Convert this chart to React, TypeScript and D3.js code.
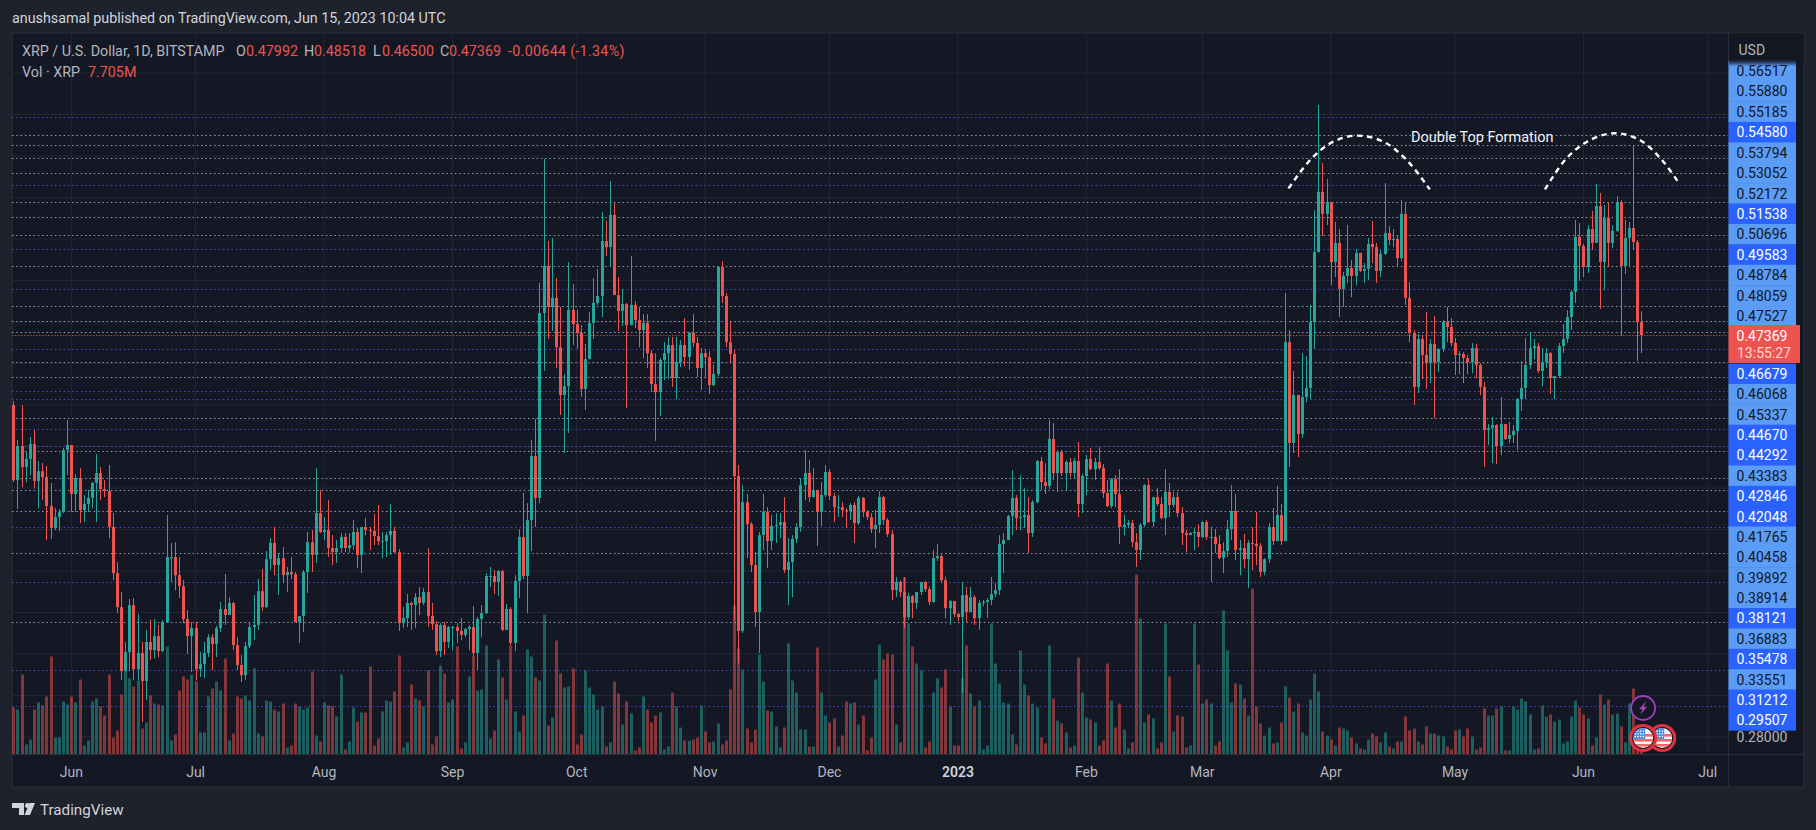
import * as d3 from 'd3';

const firstDay = new Date(Date.UTC(2022, 4, 18));
const firstOpen = 0.4400;

// daily closes, May 18 2022 -> Jun 15 2023
const closes = [
  0.4038,0.4202,0.4101,0.4140,0.4212,0.4034,0.4081,0.4053,0.3913,0.3807,
  0.3860,0.3884,0.4183,0.4207,0.3971,0.4048,0.3894,0.3923,0.3952,0.4024,
  0.4072,0.3995,0.3985,0.3812,0.3590,0.3426,0.3118,0.3209,0.3436,0.3127,
  0.3205,0.3070,0.3258,0.3219,0.3286,0.3214,0.3354,0.3667,0.3667,0.3580,
  0.3527,0.3368,0.3286,0.3325,0.3127,0.3151,0.3205,0.3281,0.3248,0.3325,
  0.3417,0.3388,0.3446,0.3243,0.3147,0.3098,0.3238,0.3330,0.3340,0.3503,
  0.3426,0.3657,0.3735,0.3629,0.3662,0.3580,0.3595,0.3585,0.3354,0.3383,
  0.3595,0.3739,0.3677,0.3879,0.3788,0.3797,0.3711,0.3691,0.3711,0.3764,
  0.3711,0.3725,0.3788,0.3677,0.3812,0.3797,0.3793,0.3768,0.3744,0.3744,
  0.3773,0.3793,0.3691,0.3349,0.3373,0.3446,0.3436,0.3474,0.3446,0.3499,
  0.3383,0.3344,0.3214,0.3340,0.3258,0.3330,0.3330,0.3311,0.3292,0.3320,
  0.3330,0.3205,0.3368,0.3397,0.3576,0.3576,0.3547,0.3600,0.3316,0.3417,
  0.3253,0.3552,0.3764,0.3576,0.3846,0.4154,0.3952,0.4843,0.5070,0.4872,
  0.4916,0.4679,0.4448,0.4491,0.4858,0.4790,0.4747,0.4477,0.4621,0.4795,
  0.4892,0.4925,0.5190,0.5161,0.5316,0.4930,0.4853,0.4887,0.4785,0.4882,
  0.4810,0.4761,0.4795,0.4650,0.4501,0.4462,0.4617,0.4650,0.4689,0.4530,
  0.4607,0.4689,0.4631,0.4747,0.4699,0.4578,0.4650,0.4631,0.4496,0.4549,
  0.5065,0.4925,0.4703,0.4646,0.4058,0.3311,0.3932,0.3826,0.3629,0.3402,
  0.3773,0.3884,0.3744,0.3817,0.3822,0.3836,0.3605,0.3643,0.3754,0.3812,
  0.4014,0.4072,0.3956,0.3990,0.3884,0.3966,0.4077,0.3961,0.3908,0.3908,
  0.3894,0.3889,0.3918,0.3831,0.3952,0.3884,0.3860,0.3802,0.3822,0.3956,
  0.3846,0.3778,0.3508,0.3547,0.3499,0.3378,0.3479,0.3446,0.3499,0.3547,
  0.3513,0.3451,0.3662,0.3672,0.3556,0.3421,0.3455,0.3393,0.3378,0.3484,
  0.3402,0.3474,0.3373,0.3446,0.3451,0.3460,0.3489,0.3508,0.3730,0.3749,
  0.3865,0.3952,0.3855,0.3860,0.3870,0.3783,0.3932,0.4130,0.4029,0.4010,
  0.4236,0.4072,0.4173,0.4072,0.4125,0.4072,0.4130,0.3923,0.4058,0.4140,
  0.4091,0.4125,0.4096,0.3976,0.3913,0.4043,0.3971,0.3812,0.3822,0.3831,
  0.3739,0.3701,0.3822,0.4014,0.3836,0.3956,0.3923,0.3855,0.3981,0.3918,
  0.3956,0.3879,0.3783,0.3773,0.3783,0.3788,0.3764,0.3836,0.3764,0.3764,
  0.3730,0.3662,0.3696,0.3802,0.3889,0.3701,0.3711,0.3657,0.3735,0.3730,
  0.3720,0.3595,0.3657,0.3812,0.3744,0.3870,0.3744,0.4703,0.4217,0.4448,
  0.4260,0.4438,0.4482,0.4800,0.5137,0.5427,0.5321,0.5378,0.5089,0.5181,
  0.4959,0.5022,0.5060,0.5022,0.5133,0.5046,0.5055,0.5176,0.5161,0.5046,
  0.5128,0.5229,0.5195,0.5200,0.5108,0.5321,0.4916,0.4747,0.4487,0.4718,
  0.4641,0.4602,0.4694,0.4607,0.4670,0.4800,0.4776,0.4699,0.4641,0.4646,
  0.4626,0.4607,0.4674,0.4593,0.4487,0.4279,0.4289,0.4303,0.4202,0.4308,
  0.4236,0.4255,0.4275,0.4429,0.4482,0.4593,0.4674,0.4684,0.4564,0.4607,
  0.4650,0.4530,0.4540,0.4684,0.4718,0.4824,0.4945,0.5210,0.5166,0.5065,
  0.5248,0.5181,0.5359,0.5089,0.5301,0.5181,0.5239,0.5378,0.5070,0.5205,
  0.5253,0.5185,0.47992,0.47369,
];

const highs = [
  0.4419,0.4231,0.4400,0.4173,0.4246,0.4279,0.4130,0.4120,0.4106,0.4024,
  0.3903,0.3899,0.4193,0.4328,0.4207,0.4067,0.4096,0.3966,0.3990,0.4029,
  0.4164,0.4101,0.4038,0.4111,0.3879,0.3643,0.3499,0.3258,0.3465,0.3470,
  0.3393,0.3258,0.3316,0.3364,0.3368,0.3340,0.3364,0.3870,0.3735,0.3739,
  0.3667,0.3556,0.3412,0.3354,0.3354,0.3209,0.3258,0.3296,0.3296,0.3335,
  0.3451,0.3585,0.3474,0.3451,0.3281,0.3195,0.3258,0.3349,0.3484,0.3561,
  0.3609,0.3696,0.3759,0.3812,0.3687,0.3715,0.3619,0.3667,0.3595,0.3383,
  0.3605,0.3788,0.3797,0.4096,0.3990,0.3860,0.3942,0.3773,0.3749,0.3783,
  0.3783,0.3783,0.3846,0.3807,0.3812,0.3855,0.3812,0.3875,0.3918,0.3788,
  0.3788,0.3923,0.3812,0.3706,0.3426,0.3489,0.3451,0.3494,0.3523,0.3518,
  0.3711,0.3446,0.3359,0.3349,0.3354,0.3335,0.3335,0.3349,0.3373,0.3325,
  0.3340,0.3431,0.3378,0.3436,0.3590,0.3619,0.3605,0.3605,0.3605,0.3441,
  0.3426,0.3580,0.3802,0.3976,0.3927,0.4231,0.4333,0.4988,0.5586,0.5190,
  0.5205,0.5012,0.4872,0.4549,0.5089,0.4983,0.4858,0.4785,0.4694,0.4848,
  0.5012,0.5055,0.5330,0.5287,0.5480,0.5373,0.5017,0.4959,0.4892,0.5118,
  0.4901,0.4872,0.4838,0.4838,0.4665,0.4650,0.4626,0.4703,0.4728,0.4728,
  0.4728,0.4713,0.4819,0.4752,0.4838,0.4728,0.4674,0.4670,0.4660,0.4593,
  0.5070,0.5094,0.4940,0.4800,0.4665,0.4111,0.4014,0.3971,0.3836,0.3691,
  0.3788,0.3971,0.3908,0.3870,0.3879,0.3879,0.3956,0.3759,0.3773,0.3831,
  0.4048,0.4183,0.4135,0.4096,0.3990,0.4029,0.4111,0.4091,0.3976,0.3966,
  0.3932,0.3903,0.3927,0.3932,0.3961,0.3956,0.3894,0.3879,0.3894,0.3985,
  0.3961,0.3855,0.3797,0.3571,0.3556,0.3571,0.3494,0.3484,0.3499,0.3547,
  0.3552,0.3527,0.3701,0.3730,0.3687,0.3571,0.3460,0.3455,0.3397,0.3547,
  0.3523,0.3523,0.3484,0.3460,0.3460,0.3470,0.3571,0.3542,0.3773,0.3783,
  0.3870,0.4086,0.3966,0.4062,0.3999,0.3956,0.3942,0.4135,0.4150,0.4120,
  0.4328,0.4313,0.4183,0.4183,0.4135,0.4145,0.4145,0.4222,0.4067,0.4159,
  0.4193,0.4145,0.4197,0.4115,0.4038,0.4048,0.4062,0.4091,0.3870,0.3846,
  0.3846,0.3783,0.3831,0.4019,0.4043,0.3956,0.3999,0.3956,0.4091,0.4024,
  0.3981,0.3981,0.3908,0.3797,0.3788,0.3807,0.3826,0.3841,0.3846,0.3812,
  0.3802,0.3773,0.3739,0.3846,0.4014,0.3971,0.3749,0.3778,0.3749,0.3812,
  0.3884,0.3735,0.3662,0.3831,0.3903,0.4010,0.3923,0.4940,0.4761,0.4564,
  0.4448,0.4650,0.4636,0.4882,0.5340,0.5846,0.5566,0.5489,0.5369,0.5282,
  0.5248,0.5041,0.5267,0.5099,0.5152,0.5133,0.5084,0.5205,0.5287,0.5181,
  0.5147,0.5470,0.5263,0.5248,0.5214,0.5388,0.5373,0.4993,0.4761,0.4742,
  0.4737,0.4848,0.4718,0.4829,0.4674,0.4810,0.4872,0.4819,0.4723,0.4660,
  0.4655,0.4641,0.4699,0.4694,0.4602,0.4511,0.4308,0.4342,0.4308,0.4438,
  0.4303,0.4318,0.4303,0.4434,0.4612,0.4723,0.4752,0.4718,0.4699,0.4674,
  0.4674,0.4655,0.4535,0.4699,0.4790,0.4858,0.4954,0.5292,0.5277,0.5176,
  0.5267,0.5335,0.5465,0.5422,0.5364,0.5378,0.5267,0.5407,0.5388,0.5292,
  0.5282,0.5648,0.5195,0.48518,
];

const lows = [
  0.4029,0.3899,0.4005,0.4029,0.4062,0.3999,0.3903,0.3942,0.3749,0.3754,
  0.3797,0.3793,0.3879,0.4062,0.3884,0.3884,0.3831,0.3836,0.3884,0.3903,
  0.3836,0.3942,0.3956,0.3759,0.3556,0.3397,0.3074,0.3118,0.3118,0.3074,
  0.3074,0.2872,0.2978,0.3171,0.3180,0.3185,0.3209,0.3354,0.3547,0.3508,
  0.3470,0.3349,0.3200,0.3113,0.3074,0.3089,0.3084,0.3185,0.3123,0.3185,
  0.3306,0.3340,0.3388,0.3219,0.3123,0.3065,0.3074,0.3229,0.3267,0.3316,
  0.3407,0.3421,0.3605,0.3580,0.3484,0.3542,0.3499,0.3561,0.3354,0.3253,
  0.3306,0.3494,0.3595,0.3638,0.3783,0.3749,0.3667,0.3629,0.3638,0.3687,
  0.3691,0.3687,0.3701,0.3614,0.3590,0.3773,0.3701,0.3725,0.3725,0.3662,
  0.3667,0.3677,0.3687,0.3311,0.3325,0.3330,0.3316,0.3325,0.3388,0.3436,
  0.3330,0.3316,0.3195,0.3185,0.3195,0.3229,0.3219,0.3253,0.3267,0.3281,
  0.3219,0.3185,0.3123,0.3281,0.3393,0.3523,0.3489,0.3479,0.3311,0.3316,
  0.3243,0.3214,0.3470,0.3561,0.3397,0.3696,0.3812,0.3927,0.4564,0.4718,
  0.4757,0.4578,0.4352,0.4169,0.4265,0.4689,0.4670,0.4438,0.4376,0.4621,
  0.4718,0.4882,0.4824,0.5118,0.5065,0.4930,0.4757,0.4781,0.4385,0.4785,
  0.4771,0.4679,0.4626,0.4578,0.4462,0.4226,0.4347,0.4520,0.4525,0.4487,
  0.4429,0.4583,0.4588,0.4569,0.4679,0.4535,0.4472,0.4535,0.4453,0.4491,
  0.4540,0.4892,0.4679,0.4607,0.3364,0.3156,0.3301,0.3662,0.3595,0.3330,
  0.3205,0.3701,0.3614,0.3701,0.3735,0.3759,0.3590,0.3436,0.3474,0.3735,
  0.3788,0.3942,0.3932,0.3956,0.3720,0.3817,0.3956,0.3942,0.3836,0.3860,
  0.3860,0.3807,0.3846,0.3735,0.3822,0.3860,0.3846,0.3783,0.3711,0.3783,
  0.3822,0.3764,0.3460,0.3474,0.3474,0.3325,0.3364,0.3373,0.3417,0.3484,
  0.3499,0.3436,0.3446,0.3648,0.3542,0.3373,0.3340,0.3378,0.3359,0.3012,
  0.3354,0.3402,0.3340,0.3316,0.3431,0.3373,0.3436,0.3474,0.3484,0.3590,
  0.3749,0.3773,0.3797,0.3797,0.3807,0.3687,0.3764,0.3927,0.3990,0.3971,
  0.3995,0.4038,0.3981,0.4058,0.3990,0.4053,0.4048,0.3860,0.3879,0.3966,
  0.4086,0.4038,0.4086,0.3952,0.3908,0.3903,0.3908,0.3730,0.3773,0.3807,
  0.3715,0.3619,0.3653,0.3812,0.3831,0.3812,0.3913,0.3850,0.3773,0.3860,
  0.3908,0.3860,0.3725,0.3691,0.3773,0.3701,0.3715,0.3759,0.3749,0.3547,
  0.3687,0.3657,0.3590,0.3667,0.3749,0.3653,0.3580,0.3614,0.3518,0.3605,
  0.3629,0.3571,0.3580,0.3638,0.3725,0.3744,0.3725,0.3744,0.4101,0.4169,
  0.4149,0.4241,0.4414,0.4429,0.4670,0.5137,0.5214,0.5267,0.4978,0.5017,
  0.4824,0.4872,0.4988,0.4920,0.4978,0.5041,0.4988,0.5002,0.5084,0.4988,
  0.5017,0.5123,0.5171,0.5161,0.5065,0.5094,0.4882,0.4703,0.4400,0.4458,
  0.4525,0.4477,0.4506,0.4337,0.4559,0.4655,0.4703,0.4684,0.4545,0.4549,
  0.4506,0.4549,0.4554,0.4530,0.4448,0.4101,0.4207,0.4120,0.4115,0.4159,
  0.4231,0.4217,0.4217,0.4183,0.4371,0.4429,0.4573,0.4621,0.4554,0.4491,
  0.4578,0.4453,0.4429,0.4530,0.4650,0.4699,0.4761,0.4892,0.4998,0.5017,
  0.5036,0.5147,0.5181,0.4863,0.4954,0.5065,0.5157,0.5234,0.4733,0.5031,
  0.5065,0.5147,0.4612,0.46500,
];

// volume in millions of XRP
const volumes = [
  47,45,80,10,15,45,52,49,58,98,
  17,17,53,50,58,52,75,9,14,53,
  56,48,39,80,17,24,60,84,76,68,
  74,26,32,59,51,50,49,108,14,20,
  64,78,75,80,73,22,22,58,66,73,
  64,96,14,21,58,56,59,54,86,21,
  18,54,53,45,43,51,7,9,51,48,
  45,47,83,19,13,52,49,48,38,80,
  5,13,47,33,42,42,88,9,16,43,
  54,53,63,99,7,12,70,56,54,48,
  84,10,18,89,81,52,55,108,6,12,
  78,98,64,65,109,16,24,95,77,55,
  109,43,23,39,105,98,77,74,140,29,
  37,114,81,67,68,86,10,20,84,67,
  60,45,48,8,12,73,61,30,53,41,
  4,7,58,45,32,39,42,5,8,62,
  48,27,14,14,15,17,49,23,12,13,
  31,10,14,65,149,106,85,26,12,25,
  100,73,44,43,28,7,27,111,74,62,
  25,25,8,8,107,62,39,32,36,8,
  19,53,51,52,30,39,4,17,75,110,
  95,101,100,30,12,177,131,108,91,84,
  7,13,62,76,67,85,48,9,9,76,
  109,61,48,54,5,9,131,91,71,52,
  51,20,10,104,70,59,51,47,17,11,
  109,56,34,31,22,7,9,97,62,37,
  35,32,9,14,91,54,27,51,25,6,
  12,180,136,32,40,36,6,12,131,78,
  23,39,38,7,9,131,90,51,55,51,
  9,13,144,104,52,71,70,56,39,166,
  48,31,19,27,11,12,32,68,57,43,
  51,22,19,55,81,63,23,19,15,9,
  27,26,24,17,11,6,5,15,21,18,
  12,22,8,6,13,13,38,24,26,13,
  10,28,21,21,19,18,8,5,24,25,
  18,26,18,5,7,46,39,39,46,48,
  4,4,48,45,56,53,40,5,6,49,
  38,40,33,35,11,13,38,54,47,40,
  36,9,17,60,50,55,40,41,28,12,
  51,66,30,7.705,
];

// horizontal levels drawn on the chart
const blueLevels = [0.5788,0.5458,0.51538,0.49583,0.46679,0.4467,0.44292,0.42846,0.42048,0.38121,0.35478,0.31212,0.29507];
const lightLevels = [0.5701,0.56517,0.5588,0.55185,0.53794,0.53052,0.52172,0.50696,0.48784,0.48059,0.47527,0.46068,0.45337,0.43383,0.41765,0.40458,0.39892,0.38914,0.36883,0.33551];
const lastPrice = 0.47369;
const gridPrices = d3.range(0.28, 0.61, 0.02);

// the two hand drawn arcs, [candle index, price]
const arcLeft: [number, number][] = [[307.8,0.5444],[313.4,0.5589],[318.6,0.5669],[324.2,0.5698],[330.7,0.5669],[336.3,0.5581],[341.9,0.5439]];
const arcRight: [number, number][] = [[369.7,0.5439],[374.9,0.5589],[380.6,0.5677],[386.6,0.5710],[392.6,0.5677],[397.9,0.5581],[401.9,0.5473]];

const W = 1816;
const H = 830;
const paneL = 12;
const paneR = 1728.5;
const paneT = 33;
const paneB = 754.5;
const frameR = 1804;
const frameB = 787;
const dayW = 4.143;
const x0 = 13.3;

const GREEN = '#26a69a';
const RED = '#ef5350';
const FONT = 'Roboto, sans-serif';

const x = d3.scaleUtc()
  .domain([firstDay, d3.utcDay.offset(firstDay, 100)])
  .range([x0, x0 + 100 * dayW]);
const xi = (i: number) => x(d3.utcDay.offset(firstDay, Math.floor(i))) + (i - Math.floor(i)) * dayW;
const y = d3.scaleLinear().domain([0.28, 0.58]).range([737, 114.5]);
const volY = d3.scaleLinear().domain([0, 200]).range([paneB, paneB - 200]);

const months = d3.utcMonth.range(new Date(Date.UTC(2022, 5, 1)), new Date(Date.UTC(2023, 6, 2)));
const monthLabel = (d: Date) => (d.getUTCMonth() === 0 ? d3.utcFormat('%Y')(d) : d3.utcFormat('%b')(d));

const opens = closes.map((_, i) => (i === 0 ? firstOpen : closes[i - 1]));

const arcLine = d3.line<[number, number]>()
  .x(d => xi(d[0]))
  .y(d => y(d[1]))
  .curve(d3.curveCatmullRom);

// price labels get stacked by TradingView so they don't overlap
const stacked = [...blueLevels.map(p => ({ p, blue: true })), ...lightLevels.map(p => ({ p, blue: false }))]
  .filter(l => l.p < 0.566)
  .sort((a, b) => b.p - a.p);
const labelY = (i: number) => (i < 13 ? 71 + i * 20.42 : 374 + (i - 13) * 20.37);

function Flag({ cx, cy, id }: { cx: number; cy: number; id: string }) {
  return (
    <g>
      <clipPath id={id}><circle cx={cx} cy={cy} r={10} /></clipPath>
      <circle cx={cx} cy={cy} r={12.5} fill="#131722" stroke="#e5303f" strokeWidth={3} />
      <g clipPath={`url(#${id})`}>
        <rect x={cx - 10} y={cy - 10} width={20} height={20} fill="#f7f7f7" />
        {[-4, 1, 6].map(o => (
          <rect key={o} x={cx - 10} y={cy + o} width={20} height={2.6} fill="#ef6a6a" />
        ))}
        <rect x={cx - 10} y={cy - 10} width={12} height={11} fill="#4a90e2" />
        {d3.range(4).flatMap(a => d3.range(3).map(b => (
          <rect key={`${a}${b}`} x={cx - 8.6 + a * 2.7} y={cy - 7.5 + b * 2.7} width={1.3} height={1.3} fill="#fff" />
        )))}
      </g>
    </g>
  );
}

function Legend() {
  const grey = '#b2b5be';
  const ohlc: [string, string, number, number][] = [
    ['O', '0.47992', 236, 246],
    ['H', '0.48518', 304, 314],
    ['L', '0.46500', 373, 382],
    ['C', '0.47369', 440, 449],
  ];
  return (
    <g fontFamily={FONT} fontSize={14.3}>
      <text x={12} y={23} fill="#d1d4dc">anushsamal published on TradingView.com, Jun 15, 2023 10:04 UTC</text>
      <text x={22} y={56} fill={grey}>XRP / U.S. Dollar, 1D, BITSTAMP</text>
      {ohlc.map(([k, v, a, b]) => (
        <g key={k}>
          <text x={a} y={56} fill={grey}>{k}</text>
          <text x={b} y={56} fill={RED}>{v}</text>
        </g>
      ))}
      <text x={508} y={56} fill={RED} letterSpacing={0.3}>-0.00644 (-1.34%)</text>
      <text x={22} y={77} fill={grey}>Vol · XRP</text>
      <text x={88} y={77} fill={RED}>7.705M</text>
    </g>
  );
}

export default function App() {
  return (
    <svg width={W} height={H} viewBox={`0 0 ${W} ${H}`} style={{ position: 'fixed', left: 0, top: 0, display: 'block' }}>
      <defs>
        <linearGradient id="fade" x1="0" x2="0" y1="0" y2="1">
          <stop offset="0" stopColor="#131722" stopOpacity={1} />
          <stop offset="1" stopColor="#131722" stopOpacity={0} />
        </linearGradient>
      </defs>
      <rect width={W} height={H} fill="#1e222d" />
      <rect x={paneL} y={paneT} width={frameR - paneL} height={frameB - paneT} fill="#141824" stroke="#2a2e39" />

      {/* grid */}
      {gridPrices.map(p => (
        <line key={p} x1={paneL} x2={paneR} y1={y(p)} y2={y(p)} stroke="#232733" />
      ))}
      {months.map(d => (
        <line key={+d} x1={x(d)} x2={x(d)} y1={paneT} y2={paneB} stroke="#232733" />
      ))}

      {/* volume */}
      {volumes.map((v, i) => (
        <rect
          key={i}
          x={Math.round(xi(i)) - 1}
          y={volY(v)}
          width={3}
          height={paneB - volY(v)}
          fill={closes[i] >= opens[i] ? GREEN : RED}
          fillOpacity={0.5}
        />
      ))}

      {/* levels */}
      {lightLevels.map(p => (
        <line key={p} x1={paneL} x2={paneR} y1={Math.round(y(p)) + 0.5} y2={Math.round(y(p)) + 0.5} stroke="#c8cde0" strokeOpacity={0.72} strokeDasharray="1.5 2.8" />
      ))}
      {blueLevels.map(p => (
        <line key={p} x1={paneL} x2={paneR} y1={Math.round(y(p)) + 0.5} y2={Math.round(y(p)) + 0.5} stroke="#5552e6" strokeOpacity={0.85} strokeDasharray="1.5 2.8" />
      ))}
      <line x1={paneL} x2={paneR} y1={Math.round(y(lastPrice)) + 0.5} y2={Math.round(y(lastPrice)) + 0.5} stroke={RED} strokeDasharray="1.5 1.5" strokeOpacity={0.7} />

      {/* candles */}
      {closes.map((c, i) => {
        const o = opens[i];
        const col = c >= o ? GREEN : RED;
        const cx = Math.round(xi(i));
        const top = y(Math.max(o, c));
        const bot = y(Math.min(o, c));
        const hi = y(Math.max(highs[i], o, c));
        const lo = y(Math.min(lows[i], o, c));
        return (
          <g key={i} fill={col}>
            <rect x={cx} y={hi} width={1} height={lo - hi} />
            <rect x={cx - 1} y={top} width={3} height={Math.max(bot - top, 1)} />
          </g>
        );
      })}

      {/* annotation */}
      {[arcLeft, arcRight].map((a, i) => (
        <path key={i} d={arcLine(a) ?? ''} fill="none" stroke="#fff" strokeWidth={2.4} strokeDasharray="5.5 4.5" />
      ))}
      <text x={1411} y={142} fill="#f0f3fa" fontFamily={FONT} fontSize={14.5}>Double Top Formation</text>

      {/* events */}
      <Flag cx={xi(398)} cy={738} id="flagB" />
      <Flag cx={xi(393.4)} cy={738} id="flagA" />
      <circle cx={xi(393.4)} cy={708} r={12} fill="#141824" stroke="#9c3fb8" strokeWidth={1.8} />
      <path
        d={d3.line()([[3, -7], [-4, 1.2], [-0.4, 1.2], [-3, 7], [4, -1.2], [0.4, -1.2]]) + 'Z'}
        transform={`translate(${xi(393.4)},708)`}
        fill="#ab47bc"
      />

      {/* price axis */}
      <line x1={paneR} x2={paneR} y1={paneT} y2={frameB} stroke="#2a2e39" />
      <line x1={paneL} x2={frameR} y1={paneB} y2={paneB} stroke="#2a2e39" />
      {stacked.map((l, i) => (
        <g key={l.p} fontFamily={FONT} fontSize={14}>
          <rect x={paneR} y={labelY(i) - 10.4} width={67.5} height={20.8} fill={l.blue ? '#2962ff' : '#5b9cf6'} />
          <text x={paneR + 33.5} y={labelY(i) + 5} textAnchor="middle" fill={l.blue ? '#fff' : '#131722'}>
            {l.p.toFixed(5)}
          </text>
        </g>
      ))}
      <rect x={paneR + 0.5} y={paneT + 0.5} width={frameR - paneR - 1} height={27} fill="#131722" />
      <rect x={paneR + 0.5} y={paneT + 27.5} width={frameR - paneR - 1} height={6} fill="url(#fade)" />
      <text x={paneR + 10} y={55} fill="#b2b5be" fontFamily={FONT} fontSize={14}>USD</text>
      <text x={paneR + 33.5} y={742} textAnchor="middle" fill="#b2b5be" fontFamily={FONT} fontSize={14}>0.28000</text>
      <rect x={paneR} y={325} width={71.5} height={38} fill={RED} rx={1} />
      <text x={paneR + 33.5} y={341} textAnchor="middle" fill="#fff" fontFamily={FONT} fontSize={14}>{lastPrice.toFixed(5)}</text>
      <text x={paneR + 35.5} y={358} textAnchor="middle" fill="#ffd9d7" fontFamily={FONT} fontSize={14}>13:55:27</text>

      {/* time axis */}
      {months.map(d => (
        <text
          key={+d}
          x={x(d)}
          y={777}
          textAnchor="middle"
          fontFamily={FONT}
          fontSize={14}
          fill={d.getUTCMonth() === 0 ? '#d1d4dc' : '#b2b5be'}
          fontWeight={d.getUTCMonth() === 0 ? 600 : 400}
        >
          {monthLabel(d)}
        </text>
      ))}

      <Legend />

      {/* logo */}
      <g fill="#d1d4dc">
        <path d="M12 803H24V815H19V808H12Z" />
        <circle cx={27.5} cy={805.5} r={2.5} />
        <path d="M29.5 803H35L30 815H24.5Z" />
        <text x={40} y={815} fontFamily={FONT} fontSize={15.2}>TradingView</text>
      </g>
    </svg>
  );
}
